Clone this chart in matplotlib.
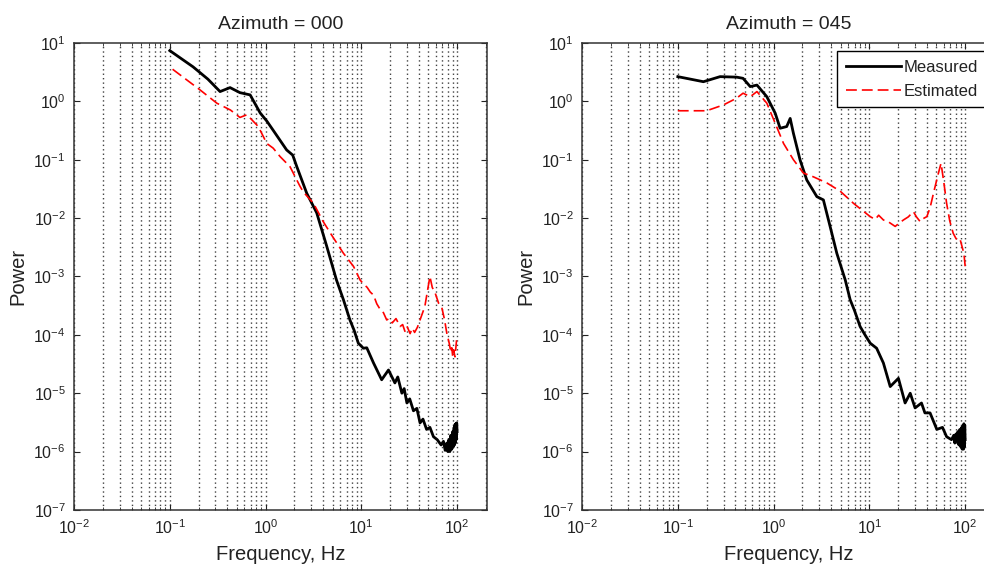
import numpy as np
import matplotlib
matplotlib.use("Agg")
import matplotlib.pyplot as plt
from matplotlib.ticker import LogLocator, NullLocator

# ---- data (frequency in Hz, power) ----
# Azimuth = 000
f000_meas = [0.1, 0.175, 0.25, 0.335, 0.426, 0.54, 0.69, 0.88, 1.03, 1.2, 1.66, 1.92, 2.12,
             2.69, 3.42, 4.35, 5.5, 6.5, 7.6, 8.4, 9.3, 10.5, 11.4, 13.4, 16.3, 19.2, 22.4,
             24, 26.5, 28, 29.9, 32, 35, 38, 41, 44, 48, 52, 56.6, 62, 68, 72, 75, 78, 80,
             82, 84, 86, 88, 90, 91, 93, 94, 95, 96, 97, 98, 99, 100]
p000_meas = [7.4, 3.9, 2.4, 1.47, 1.72, 1.41, 1.29, 0.63, 0.46, 0.32, 0.147, 0.12, 0.076,
             0.0267, 0.0123, 3.3e-3, 8.7e-4, 4.0e-4, 1.8e-4, 1.2e-4, 7.2e-5, 5.9e-5, 6.0e-5,
             3.3e-5, 1.7e-5, 2.5e-5, 1.5e-5, 1.9e-5, 1.0e-5, 1.2e-5, 6.8e-6, 8e-6, 5.0e-6,
             5.5e-6, 3.1e-6, 3.6e-6, 2.4e-6, 2.6e-6, 1.8e-6, 1.6e-6, 1.3e-6, 1.5e-6, 1.05e-6,
             1.4e-6, 1.0e-6, 1.6e-6, 1.0e-6, 1.9e-6, 1.1e-6, 2.2e-6, 1.2e-6, 2.6e-6, 1.3e-6,
             2.9e-6, 1.4e-6, 3.0e-6, 1.6e-6, 3.1e-6, 2.2e-6]
f000_est = [0.107, 0.207, 0.31, 0.43, 0.54, 0.64, 0.84, 1.03, 1.2, 1.42, 1.8, 2.29, 2.48,
            3.16, 4.0, 4.9, 6.5, 8.3, 9.7, 10.5, 11.5, 12.4, 13.4, 14.5, 16, 17, 18.4, 19.5,
            21, 23, 25.4, 27, 28.5, 30, 32.3, 34, 36, 38.5, 41, 46, 52, 55, 59, 64, 69, 74,
            78, 83, 86, 88, 90, 92, 95, 97, 99]
p000_est = [3.55, 1.57, 0.93, 0.71, 0.53, 0.59, 0.37, 0.19, 0.158, 0.113, 0.076, 0.035, 0.028,
            0.018, 0.0087, 0.0051, 0.0025, 0.00148, 8.7e-4, 7.5e-4, 6.5e-4, 5.4e-4, 4.8e-4,
            3.4e-4, 2.6e-4, 2.4e-4, 1.8e-4, 1.9e-4, 1.6e-4, 1.9e-4, 1.39e-4, 1.5e-4, 1.15e-4,
            1.4e-4, 1.05e-4, 1.3e-4, 1.1e-4, 1.35e-4, 1.8e-4, 3.05e-4, 1.0e-3, 6.5e-4, 5.2e-4,
            3.5e-4, 3.0e-4, 1.8e-4, 1.07e-4, 7e-5, 5.0e-5, 6.0e-5, 4.2e-5, 5.5e-5, 4.2e-5,
            6.0e-5, 8.7e-5]

# Azimuth = 045
f045_meas = [0.1, 0.185, 0.276, 0.41, 0.48, 0.57, 0.67, 0.85, 1.04, 1.17, 1.37, 1.49, 1.61,
             1.89, 2.22, 2.83, 3.31, 3.89, 4.57, 5.6, 6.3, 7.0, 8.0, 9.0, 10.2, 11.9, 14,
             16.5, 20.1, 23.6, 26.7, 30, 35, 38, 43, 50.6, 58, 64, 72, 76, 78, 80, 82, 84,
             86, 88, 90, 92, 93, 95, 96, 97, 98, 99, 100]
p045_meas = [2.65, 2.17, 2.65, 2.6, 2.48, 1.79, 1.9, 1.2, 0.625, 0.346, 0.37, 0.51, 0.284,
             0.099, 0.045, 0.0233, 0.0205, 0.0072, 0.0025, 8.7e-4, 4.0e-4, 2.6e-4, 1.39e-4,
             1.0e-4, 7.2e-5, 5.9e-5, 3.3e-5, 1.3e-5, 1.8e-5, 6.8e-6, 1.0e-5, 5.6e-6, 6.8e-6,
             4.6e-6, 4.6e-6, 2.4e-6, 2.6e-6, 1.8e-6, 1.6e-6, 1.9e-6, 1.4e-6, 2.0e-6, 1.5e-6,
             2.2e-6, 1.3e-6, 2.4e-6, 1.2e-6, 2.6e-6, 1.1e-6, 2.8e-6, 1.1e-6, 3.0e-6, 1.2e-6,
             2.8e-6, 1.6e-6]
f045_est = [0.1, 0.2, 0.3, 0.41, 0.48, 0.57, 0.67, 0.85, 1.04, 1.27, 1.61, 2.05, 2.6, 3.6,
            4.95, 6.8, 10.2, 11.5, 12.5, 14, 16, 18.6, 20.5, 22.7, 25.5, 28.8, 31, 33.9, 36.5,
            39.8, 43, 46.7, 52, 56, 60, 64, 69, 75, 80, 85, 89, 93, 97, 100]
p045_est = [0.69, 0.69, 0.87, 1.13, 1.38, 1.2, 1.47, 0.93, 0.42, 0.19, 0.1, 0.059, 0.051,
            0.040, 0.029, 0.018, 0.0106, 0.0095, 0.0112, 0.0093, 0.0085, 0.0072, 0.0082,
            0.0093, 0.0105, 0.0129, 0.0105, 0.0087, 0.0098, 0.0106, 0.015, 0.0267, 0.055,
            0.087, 0.04, 0.018, 0.009, 0.0055, 0.0045, 0.0040, 0.0042, 0.0032, 0.0025, 0.0015]

titles = ["Azimuth = 000", "Azimuth = 045"]
series = [(f000_meas, p000_meas, f000_est, p000_est),
          (f045_meas, p045_meas, f045_est, p045_est)]

plt.rcParams["font.family"] = ["Liberation Sans", "DejaVu Sans"]
plt.rcParams["mathtext.fontset"] = "custom"
plt.rcParams["mathtext.rm"] = "Liberation Sans"
plt.rcParams["text.color"] = "#222222"
plt.rcParams["axes.labelcolor"] = "#222222"
plt.rcParams["xtick.color"] = "#222222"
plt.rcParams["ytick.color"] = "#222222"

fig = plt.figure(figsize=(9.84, 5.73), dpi=100)
# right panel runs past the edge of the picture, as in the reference
rects = [[0.0752, 0.110, 0.4197, 0.815], [0.5915, 0.110, 0.4197, 0.815]]

for k in range(2):
    ax = fig.add_axes(rects[k])
    fm, pm, fe, pe = series[k]
    ax.plot(fm, pm, color="black", lw=2.0, label="Measured")
    ax.plot(fe, pe, color="red", lw=1.2, dashes=(6.5, 3.0), label="Estimated")

    ax.set_xscale("log")
    ax.set_yscale("log")
    ax.set_xlim(0.01, 205)
    ax.set_ylim(1e-7, 10)
    ax.xaxis.set_major_locator(LogLocator(base=10, numticks=10))
    ax.xaxis.set_minor_locator(LogLocator(base=10, subs=np.arange(2, 10), numticks=20))
    ax.yaxis.set_major_locator(LogLocator(base=10, numticks=12))
    ax.yaxis.set_minor_locator(NullLocator())
    ax.grid(True, axis="x", which="both", color="0.25", lw=1.0, linestyle=(0, (1, 2.2)))

    ax.tick_params(which="both", direction="in", top=True, right=True, labelsize=11.5, pad=6)
    ax.tick_params(which="major", length=4)
    ax.tick_params(which="minor", length=2.5)
    for sp in ax.spines.values():
        sp.set_color("#333333")
        sp.set_linewidth(1.1)

    ax.set_title(titles[k], fontsize=14, pad=10)
    ax.set_xlabel("Frequency, Hz", fontsize=14.5, labelpad=6)
    ax.set_ylabel("Power", fontsize=14.5, labelpad=4)

    if k == 1:
        leg = ax.legend(loc="upper right", fontsize=12, frameon=True, fancybox=False,
                        framealpha=1, edgecolor="black", handlelength=3.3,
                        handletextpad=0.2, borderpad=0.5, labelspacing=0.55,
                        borderaxespad=0.5)
        leg.get_frame().set_linewidth(1.0)

fig.savefig("out.png", dpi=100)
